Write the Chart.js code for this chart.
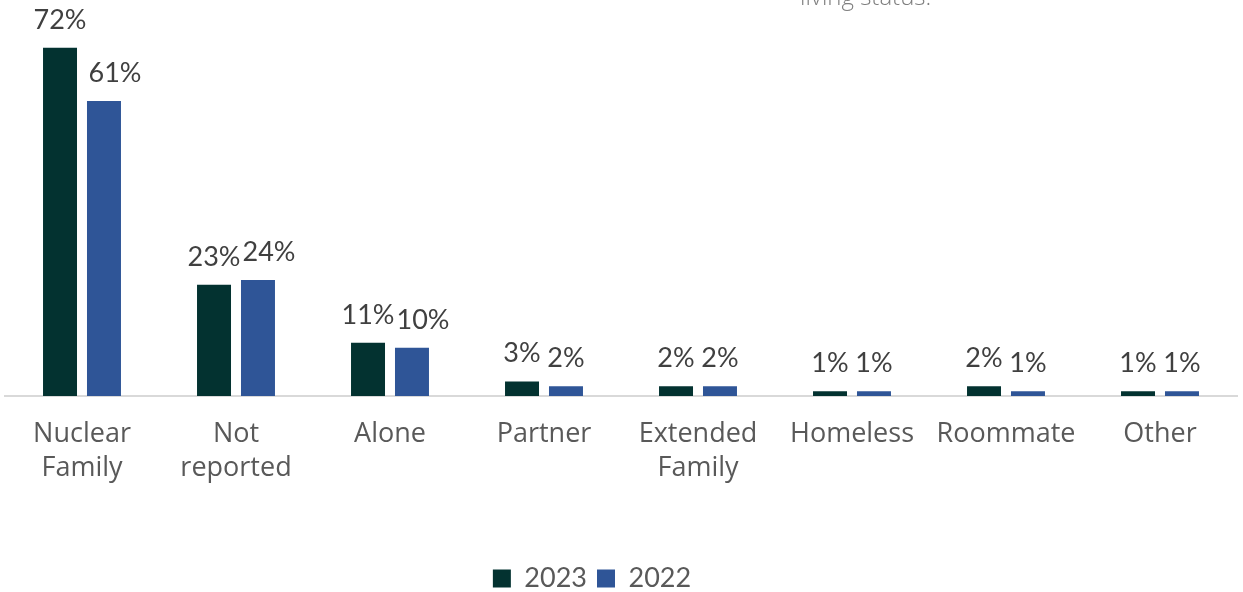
<!DOCTYPE html>
<html>
<head>
<meta charset="utf-8">
<script src="https://cdn.jsdelivr.net/npm/chart.js@4/dist/chart.umd.min.js"></script>
<style>
  html, body { margin: 0; padding: 0; background: #ffffff; }
  #wrap { width: 1243px; height: 592px; position: relative; }
</style>
</head>
<body>
<div id="wrap"><canvas id="chart" width="1243" height="592"></canvas></div>
<script>
// Living situation, share of respondents by year
const categories = [
  ['Nuclear', 'Family'], ['Not', 'reported'], 'Alone', 'Partner',
  ['Extended', 'Family'], 'Homeless', 'Roommate', 'Other'
];
const seriesNames = ['2023', '2022'];
const values2023 = [72, 23, 11, 3, 2, 1, 2, 1];
const values2022 = [61, 24, 10, 2, 2, 1, 1, 1];
const subtitleFragment = 'living status.';

const COLOR_2023 = '#033230';
const COLOR_2022 = '#2F5597';
const TEXT_GREY = '#595959';
const LABEL_FONT = '27px Lato, "Noto Sans", sans-serif';

// Percent labels above each bar; the second label in a group slides right if it would collide
const valueLabels = {
  id: 'valueLabels',
  afterDatasetsDraw(chart) {
    const ctx = chart.ctx;
    ctx.save();
    ctx.font = LABEL_FONT;
    ctx.fillStyle = '#404040';
    ctx.textAlign = 'center';
    ctx.textBaseline = 'alphabetic';
    const n = chart.data.labels.length;
    for (let i = 0; i < n; i++) {
      let prevRight = -Infinity;
      chart.data.datasets.forEach((ds, d) => {
        const bar = chart.getDatasetMeta(d).data[i];
        const txt = ds.data[i] + '%';
        const w = ctx.measureText(txt).width;
        let x = bar.x;
        if (x - w / 2 < prevRight + 2) x = prevRight + 2 + w / 2;
        ctx.fillText(txt, x, bar.y - 19);
        prevRight = x + w / 2;
      });
    }
    ctx.restore();
  }
};

// Tail end of the heading text running in from above the chart
const headingFragment = {
  id: 'headingFragment',
  afterDraw(chart) {
    const ctx = chart.ctx;
    ctx.save();
    ctx.font = '300 24px "Open Sans", sans-serif';
    ctx.fillStyle = '#7f7f7f';
    ctx.textAlign = 'left';
    ctx.textBaseline = 'alphabetic';
    ctx.fillText(subtitleFragment, 800, 5);
    ctx.restore();
  }
};

// Nudge the legend to sit a little left of centre and lower
const legendOffset = {
  id: 'legendOffset',
  afterLayout(chart) {
    const lg = chart.legend;
    if (!lg) return;
    lg.left -= 29; lg.right -= 29;
    lg.top += 10; lg.bottom += 10;
  }
};

new Chart(document.getElementById('chart'), {
  type: 'bar',
  data: {
    labels: categories,
    datasets: [
      { label: seriesNames[0], data: values2023, backgroundColor: COLOR_2023,
        categoryPercentage: 0.571, barPercentage: 0.773 },
      { label: seriesNames[1], data: values2022, backgroundColor: COLOR_2022,
        categoryPercentage: 0.571, barPercentage: 0.773 }
    ]
  },
  options: {
    responsive: false,
    animation: false,
    layout: { padding: { top: 9, left: 5, right: 6, bottom: 0 } },
    plugins: {
      legend: {
        position: 'bottom',
        labels: {
          boxWidth: 18, boxHeight: 18, padding: 10,
          color: TEXT_GREY,
          font: { family: 'Lato, "Noto Sans", sans-serif', size: 27 }
        }
      },
      tooltip: { enabled: false },
      title: { display: false }
    },
    scales: {
      x: {
        grid: { display: false, drawTicks: false },
        border: { display: true, color: '#d9d9d9', width: 2 },
        ticks: {
          color: TEXT_GREY,
          padding: 21,
          maxRotation: 0,
          autoSkip: false,
          font: { family: '"Open Sans", sans-serif', size: 27, lineHeight: 1.27 }
        },
        afterFit(scale) { scale.height = 149; }
      },
      y: {
        display: false,
        min: 0,
        max: 80
      }
    }
  },
  plugins: [valueLabels, headingFragment, legendOffset]
});
</script>
</body>
</html>
